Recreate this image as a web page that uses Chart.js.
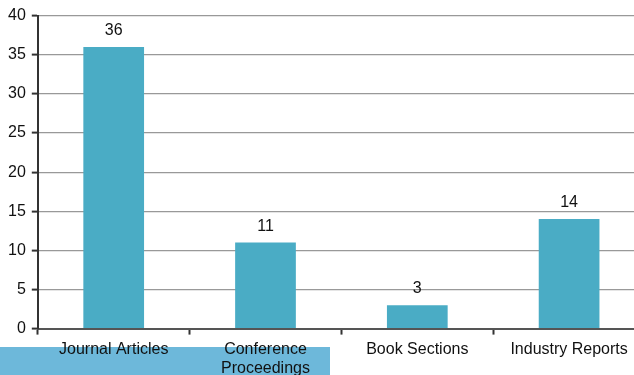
<!DOCTYPE html>
<html><head><meta charset="utf-8">
<script src="https://cdn.jsdelivr.net/npm/chart.js@4/dist/chart.umd.min.js"></script>
<style>
html,body{margin:0;padding:0;background:#fff;overflow:hidden;width:634px;height:375px;}
#wrap{position:relative;width:647px;height:384px;}
#band{position:absolute;left:0;top:347px;width:330px;height:37px;background:#6db8da;z-index:0;}
canvas{position:relative;z-index:1;}
</style></head>
<body>
<div id="wrap"><div id="band"></div><canvas id="c" width="647" height="384"></canvas></div>
<script>
const categories = [['Journal Articles'], ['Conference', 'Proceedings'], ['Book Sections'], ['Industry Reports']];
const counts = [36, 11, 3, 14];
const yTicks = [0, 5, 10, 15, 20, 25, 30, 35, 40];

const labelPlugin = {
  id: 'valueLabels',
  afterDatasetsDraw(chart) {
    const ctx = chart.ctx;
    const meta = chart.getDatasetMeta(0);
    ctx.save();
    ctx.font = '16px "Liberation Sans", Arial, sans-serif';
    ctx.fillStyle = '#111';
    ctx.textAlign = 'center';
    ctx.textBaseline = 'alphabetic';
    meta.data.forEach((bar, i) => {
      ctx.fillText(String(counts[i]), bar.x, bar.y - 12);
    });
    ctx.restore();
  }
};

new Chart(document.getElementById('c'), {
  type: 'bar',
  data: {
    labels: categories,
    datasets: [{
      data: counts,
      backgroundColor: '#4aacc5',
      borderWidth: 0,
      barPercentage: 0.8,
      categoryPercentage: 0.5
    }]
  },
  options: {
    responsive: false,
    animation: false,
    devicePixelRatio: 1,
    layout: { padding: { top: 8, right: 2, left: 2, bottom: 1 } },
    plugins: { legend: { display: false }, tooltip: { enabled: false } },
    scales: {
      x: {
        offset: true,
        grid: { display: true, offset: true, drawOnChartArea: false, drawTicks: true, tickLength: 6, tickColor: '#333', tickWidth: 2 },
        border: { display: true, color: '#555', width: 2 },
        ticks: { color: '#111', font: { family: '"Liberation Sans", Arial, sans-serif', size: 16, lineHeight: 1.2 }, padding: 5, maxRotation: 0, autoSkip: false }
      },
      y: {
        min: 0, max: 40,
        afterBuildTicks(axis) { axis.ticks = yTicks.map(v => ({ value: v })); },
        grid: { color: '#999999', lineWidth: 1.2, drawTicks: true, tickLength: 6, tickColor: '#333', tickWidth: 2 },
        border: { display: true, color: '#333', width: 2 },
        ticks: { color: '#111', font: { family: '"Liberation Sans", Arial, sans-serif', size: 16 }, padding: 6 }
      }
    }
  },
  plugins: [labelPlugin]
});
</script>
</body></html>
